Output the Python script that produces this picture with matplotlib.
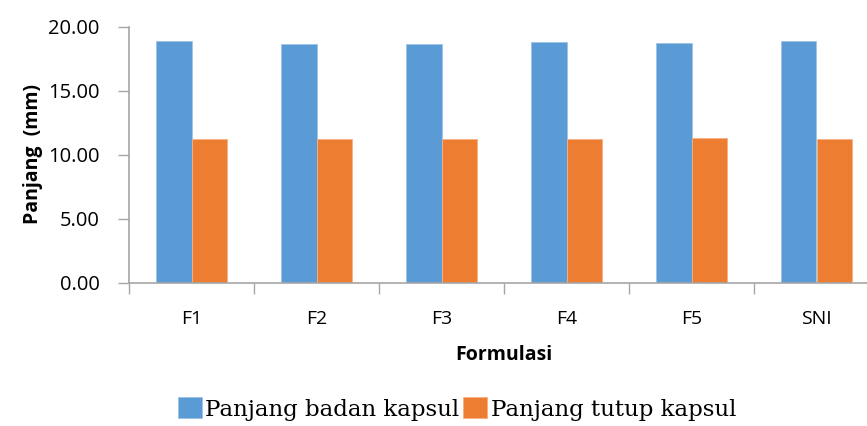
import matplotlib
matplotlib.use("Agg")
import matplotlib.pyplot as plt
import numpy as np

categories = ["F1", "F2", "F3", "F4", "F5", "SNI"]
badan = [18.85, 18.65, 18.60, 18.80, 18.75, 18.87]
tutup = [11.25, 11.25, 11.25, 11.25, 11.30, 11.25]
series_names = ["Panjang badan kapsul", "Panjang tutup kapsul"]
yticks = [0, 5, 10, 15, 20]

blue = "#5B9BD5"
orange = "#ED7D31"
grey = "#A6A6A6"

fig = plt.figure(figsize=(8.67, 4.26), dpi=100)
ax = fig.add_axes([129/867, 1-282.5/426, 750/867, 256/426])

x = np.arange(len(categories))
w = 0.284
b1 = ax.bar(x - w/2, badan, w, color=blue, edgecolor="#9CC3E6", linewidth=0.6, label=series_names[0])
b2 = ax.bar(x + w/2, tutup, w, color=orange, edgecolor="#F4B183", linewidth=0.6, label=series_names[1])

ax.set_xlim(-0.5, len(categories) - 0.5)
ax.set_ylim(0, 20)
ax.set_yticks(yticks)
ax.set_yticklabels([f"{v:.2f}" for v in yticks], fontsize=14.5, family="Open Sans")
ax.set_xticks(x)
ax.set_xticklabels(categories, fontsize=14, family="Open Sans")
ax.set_xticks(np.arange(-0.5, len(categories)), minor=True)
ax.tick_params(axis="x", which="major", length=0, pad=20)
ax.tick_params(axis="x", which="minor", length=8, color=grey, width=1)
ax.tick_params(axis="y", length=8, color=grey, width=1, pad=13)

for s in ["top", "right"]:
    ax.spines[s].set_visible(False)
for s in ["left", "bottom"]:
    ax.spines[s].set_color(grey)
    ax.spines[s].set_linewidth(1.2)

ax.set_ylabel("Panjang  (mm)", fontsize=14, fontweight="bold", family="Open Sans", labelpad=4)
ax.set_xlabel("Formulasi", fontsize=14, fontweight="bold", family="Open Sans", labelpad=12)

leg = fig.legend(handles=[b1, b2], labels=series_names, loc="center", bbox_to_anchor=(0.527, 0.04),
                 ncol=2, frameon=False, handlelength=1.05, handleheight=1.05, handletextpad=0.15,
                 columnspacing=0.15, prop={"family": "DejaVu Serif", "size": 16.5})

fig.savefig("out.png", dpi=100)
